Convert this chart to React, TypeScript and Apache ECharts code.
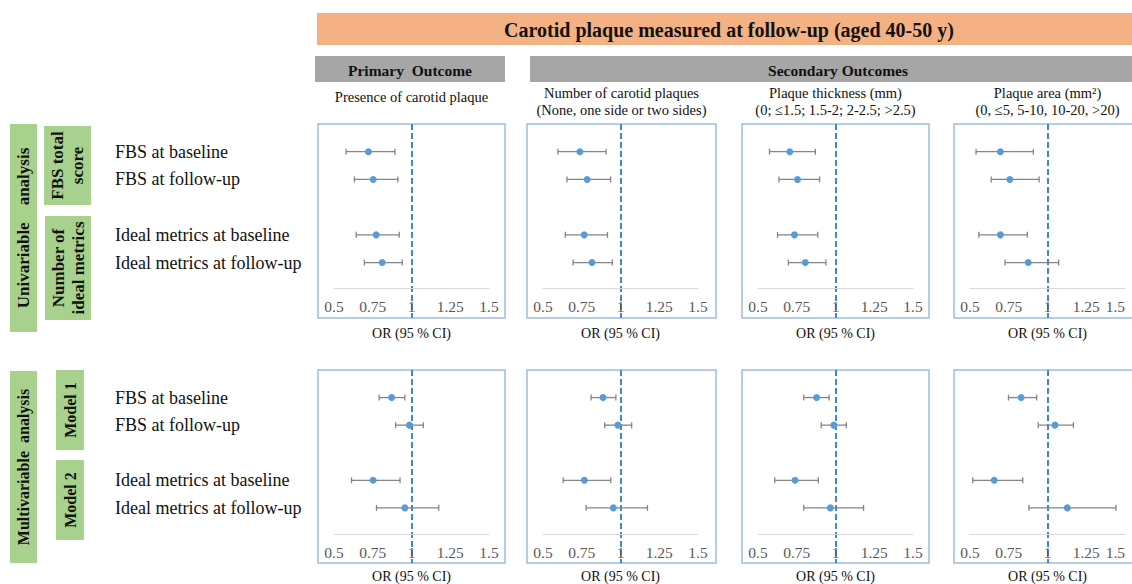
import React, { useEffect, useRef } from 'react';
import * as echarts from 'echarts';

const FONT = '"Liberation Serif", "Times New Roman", serif';

// Rows (forest plot categories)
const rowLabels = ['FBS at baseline', 'FBS at follow-up', 'Ideal metrics at baseline', 'Ideal metrics at follow-up'];
// category slots: blank spacers around / between the two groups
const yCategories = ['', rowLabels[0], rowLabels[1], ' ', rowLabels[2], rowLabels[3], '  ', '   '];

// x axis (odds ratio)
const xMin = 0.5;
const xMax = 1.5;
const xStep = 0.25;
const refValue = 1;

const outcomeTitles = [
  'Presence of carotid plaque',
  'Number of carotid plaques\n(None, one side or two sides)',
  'Plaque thickness (mm)\n(0; \u22641.5; 1.5-2; 2-2.5; >2.5)',
  'Plaque area (mm\u00B2)\n(0, \u22645, 5-10, 10-20, >20)',
];

// Univariable analysis: OR, lower CI, upper CI (rows in rowLabels order)
const uniPresenceOR = [0.722, 0.753, 0.772, 0.811];
const uniPresenceLow = [0.578, 0.632, 0.643, 0.696];
const uniPresenceHigh = [0.893, 0.912, 0.921, 0.94];

const uniNumberOR = [0.738, 0.785, 0.766, 0.816];
const uniNumberLow = [0.596, 0.655, 0.644, 0.694];
const uniNumberHigh = [0.907, 0.936, 0.916, 0.947];

const uniThicknessOR = [0.705, 0.755, 0.735, 0.805];
const uniThicknessLow = [0.574, 0.635, 0.626, 0.696];
const uniThicknessHigh = [0.87, 0.897, 0.886, 0.938];

const uniAreaOR = [0.696, 0.757, 0.696, 0.876];
const uniAreaLow = [0.539, 0.637, 0.557, 0.726];
const uniAreaHigh = [0.909, 0.946, 0.87, 1.072];

// Multivariable analysis
const multiPresenceOR = [0.872, 0.987, 0.752, 0.957];
const multiPresenceLow = [0.791, 0.898, 0.613, 0.774];
const multiPresenceHigh = [0.957, 1.076, 0.926, 1.176];

const multiNumberOR = [0.887, 0.983, 0.767, 0.954];
const multiNumberLow = [0.81, 0.898, 0.63, 0.778];
const multiNumberHigh = [0.97, 1.072, 0.937, 1.174];

const multiThicknessOR = [0.878, 0.989, 0.739, 0.967];
const multiThicknessLow = [0.795, 0.908, 0.608, 0.795];
const multiThicknessHigh = [0.959, 1.07, 0.889, 1.181];

const multiAreaOR = [0.83, 1.048, 0.656, 1.128];
const multiAreaLow = [0.748, 0.94, 0.518, 0.88];
const multiAreaHigh = [0.93, 1.167, 0.84, 1.442];

const panelData = [
  [uniPresenceOR, uniPresenceLow, uniPresenceHigh],
  [uniNumberOR, uniNumberLow, uniNumberHigh],
  [uniThicknessOR, uniThicknessLow, uniThicknessHigh],
  [uniAreaOR, uniAreaLow, uniAreaHigh],
  [multiPresenceOR, multiPresenceLow, multiPresenceHigh],
  [multiNumberOR, multiNumberLow, multiNumberHigh],
  [multiThicknessOR, multiThicknessLow, multiThicknessHigh],
  [multiAreaOR, multiAreaLow, multiAreaHigh],
];

// Layout
const colBoxLeft = [318, 527, 742, 954];
const colBoxWidth = [187, 189, 187, 187];
const rowBoxTop = [124, 370];
const rowBoxHeight = [194, 193];
const axisOffset = [-30, -29];
const nameGaps = [38, 35];
const axisInset = 16;
const axisWidth = 155;

function buildOption() {
  const grid: any[] = [];
  const xAxis: any[] = [];
  const yAxis: any[] = [];
  const series: any[] = [];
  const graphic: any[] = [];

  for (let r = 0; r < 2; r++) {
    for (let c = 0; c < 4; c++) {
      const i = r * 4 + c;
      const [orv, lo, hi] = panelData[i];
      grid.push({
        left: colBoxLeft[c] + axisInset,
        width: axisWidth,
        top: rowBoxTop[r],
        height: rowBoxHeight[r],
        outerBoundsMode: 'none',
        containLabel: false,
      });
      xAxis.push({
        gridIndex: i,
        type: 'value',
        min: xMin,
        max: xMax,
        interval: xStep,
        position: 'bottom',
        offset: axisOffset[r],
        z: 6,
        axisLine: { show: true, onZero: false, lineStyle: { color: '#d9d9d9', width: 1 } },
        axisTick: { show: false },
        splitLine: { show: false },
        axisLabel: {
          color: '#595959',
          fontSize: 15.5,
          fontFamily: FONT,
          margin: 10,
          alignMaxLabel: c === 3 ? 'right' : undefined,
        },
        name: 'OR (95 % CI)',
        nameLocation: 'middle',
        nameGap: nameGaps[r],
        nameTextStyle: { color: '#111', fontSize: 14, fontFamily: FONT },
      });
      yAxis.push({
        gridIndex: i,
        type: 'category',
        data: yCategories,
        inverse: true,
        boundaryGap: false,
        axisLine: { show: false },
        axisTick: { show: false },
        splitLine: { show: false },
        axisLabel: {
          show: c === 0,
          interval: 0,
          align: 'left',
          margin: colBoxLeft[0] + axisInset - 115,
          color: '#111',
          fontSize: 18,
          fontFamily: FONT,
        },
      });
      series.push({
        type: 'custom',
        xAxisIndex: i,
        yAxisIndex: i,
        z: 2,
        silent: true,
        data: rowLabels.map((name, k) => [lo[k], hi[k], yCategories.indexOf(name)]),
        encode: { x: [0, 1], y: 2 },
        renderItem: (params: any, api: any) => {
          const p1 = api.coord([api.value(0), api.value(2)]);
          const p2 = api.coord([api.value(1), api.value(2)]);
          const h = 3;
          const st = { stroke: '#858585', lineWidth: 1.3 };
          return {
            type: 'group',
            children: [
              { type: 'line', shape: { x1: p1[0], y1: p1[1], x2: p2[0], y2: p2[1] }, style: st },
              { type: 'line', shape: { x1: p1[0], y1: p1[1] - h, x2: p1[0], y2: p1[1] + h }, style: st },
              { type: 'line', shape: { x1: p2[0], y1: p2[1] - h, x2: p2[0], y2: p2[1] + h }, style: st },
            ],
          };
        },
      });
      series.push({
        type: 'scatter',
        xAxisIndex: i,
        yAxisIndex: i,
        z: 3,
        symbol: 'circle',
        symbolSize: 7,
        itemStyle: { color: '#5b9bd5', opacity: 1 },
        data: rowLabels.map((name, k) => [orv[k], name]),
        markLine: {
          silent: true,
          symbol: 'none',
          label: { show: false },
          z: 1,
          lineStyle: { color: '#4287c6', type: [6, 3], width: 2 },
          data: [{ xAxis: refValue }],
        },
      });
      graphic.push({
        type: 'rect',
        shape: { x: colBoxLeft[c], y: rowBoxTop[r], width: colBoxWidth[c], height: rowBoxHeight[r] },
        style: { fill: 'none', stroke: '#9dbedc', lineWidth: 1.5 },
        z: -1,
      });
    }
  }

  const txt = (x: number, y: number, text: string, size: number, weight: string, extra: any = {}) => ({
    type: 'text',
    x,
    y,
    ...extra,
    style: {
      text,
      fill: '#111',
      fontSize: size,
      fontWeight: weight,
      fontFamily: FONT,
      align: 'center',
      verticalAlign: 'middle',
      textAlign: 'center',
      textVerticalAlign: 'middle',
      lineHeight: extra.lineHeight || size + 2,
    },
  });

  // Header banner
  graphic.push({ type: 'rect', shape: { x: 317, y: 13, width: 815, height: 32 }, style: { fill: '#f4b183' } });
  graphic.push(txt(729, 30, 'Carotid plaque measured at follow-up (aged 40-50 y)', 20, 'bold'));
  graphic.push({ type: 'rect', shape: { x: 315, y: 56, width: 190, height: 26 }, style: { fill: '#a6a6a6' } });
  graphic.push(txt(410, 70, 'Primary  Outcome', 15.5, 'bold'));
  graphic.push({ type: 'rect', shape: { x: 530, y: 56, width: 602, height: 26 }, style: { fill: '#a6a6a6' } });
  graphic.push(txt(838, 70, 'Secondary Outcomes', 15.5, 'bold'));

  // Outcome subtitles
  outcomeTitles.forEach((t, c) => {
    const cx = colBoxLeft[c] + colBoxWidth[c] / 2;
    const multi = t.indexOf('\n') >= 0;
    graphic.push(txt(cx, multi ? 101.5 : 97, t, 14.5, 'normal', { lineHeight: 17 }));
  });

  // Left group labels
  const green = '#a9d18e';
  const greenBoxes = [
    { x: 10, y: 124, w: 27, h: 208, text: 'Univariable\u00A0\u00A0\u00A0\u00A0analysis', size: 17 },
    { x: 44, y: 126, w: 47, h: 79, text: 'FBS total\nscore', size: 17 },
    { x: 45, y: 216, w: 46, h: 104, text: 'Number of\nideal metrics', size: 17 },
    { x: 10, y: 371, w: 27, h: 192, text: 'Multivariable\u00A0\u00A0analysis', size: 16 },
    { x: 56, y: 370, w: 28, h: 80, text: 'Model 1', size: 16 },
    { x: 56, y: 460, w: 28, h: 80, text: 'Model 2', size: 16 },
  ];
  greenBoxes.forEach((b) => {
    graphic.push({ type: 'rect', shape: { x: b.x, y: b.y, width: b.w, height: b.h }, style: { fill: green } });
    graphic.push(txt(b.x + b.w / 2, b.y + b.h / 2, b.text, b.size, 'bold', { rotation: Math.PI / 2, lineHeight: 20 }));
  });

  return {
    animation: false,
    backgroundColor: '#ffffff',
    grid,
    xAxis,
    yAxis,
    series,
    graphic: { elements: graphic },
  };
}

export default function App() {
  const ref = useRef<HTMLDivElement>(null);
  useEffect(() => {
    const chart = echarts.init(ref.current as HTMLDivElement, null, { renderer: 'svg' });
    chart.setOption(buildOption() as any);
    return () => chart.dispose();
  }, []);
  return (
    <div
      ref={ref}
      style={{ position: 'absolute', left: 0, top: 0, width: 1132, height: 584, background: '#fff' }}
    />
  );
}
